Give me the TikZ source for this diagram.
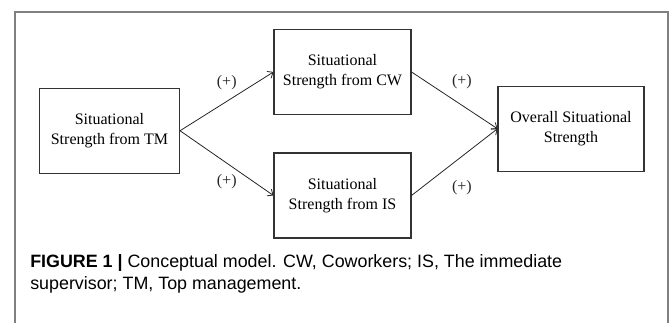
\documentclass[tikz,border=0pt]{standalone}
\usepackage{fontspec}
\setmainfont{Liberation Serif}
\newfontfamily\captionfont{Liberation Sans}
\usepackage{xcolor}
\colorlet{colorBox}{black!80}
\colorlet{colorFrame}{black!50}
\colorlet{colorArrow}{black!85}
\usepackage{tikz}
\usetikzlibrary{arrows.meta, positioning}
\tikzset{construct/.style={draw=colorBox, line width=0.8pt, align=center, inner sep=0pt,
  minimum width=102.75pt, minimum height=63.75pt, font=\fontsize{12}{15}\selectfont}}

\begin{document}
\begin{tikzpicture}[x=0.75pt, y=-0.75pt, >={Straight Barb[length=3.5pt,width=6pt]}, every node/.append style={font=\fontsize{12}{15}\selectfont}]
\useasboundingbox (0,0) rectangle (670,323);
\draw[colorFrame, line width=1.1pt] (15,323) -- (15,12) -- (668,12) -- (668,323);
\node[construct, minimum width=105pt] (sTM) at (109.5,130.75) {Situational\\Strength from TM};
\node[construct] (sCW) at (342.5,72) {Situational\\Strength from CW};
\node[construct] (sIS) at (342.5,195.5) {Situational\\Strength from IS};
\node[construct, minimum width=109.5pt, minimum height=64pt] (sAll) at (571,128.75) {Overall Situational\\Strength};
\path [->, colorArrow, line width=0.6pt] (sTM.east) edge [] node [yshift=13.8pt]{(+)} (sCW.west);
\path [->, colorArrow, line width=0.6pt] (sTM.east) edge [] node [yshift=-13.9pt]{(+)} (sIS.west);
\path [->, colorArrow, line width=0.6pt] (sCW.east) edge [] node [xshift=5.6pt, yshift=13.8pt]{(+)} (sAll.west);
\path [->, colorArrow, line width=0.6pt] (sIS.east) edge [] node [xshift=5.6pt, yshift=-19.5pt]{(+)} (sAll.west);
\node[anchor=base west, align=left, inner sep=0pt, font=\captionfont\fontsize{13.4}{16.5}\selectfont] (caption) at (30,289.3)
  {\textbf{FIGURE 1 |} Conceptual model. CW, Coworkers; IS, The immediate\\supervisor; TM, Top management.};
\end{tikzpicture}
\end{document}
